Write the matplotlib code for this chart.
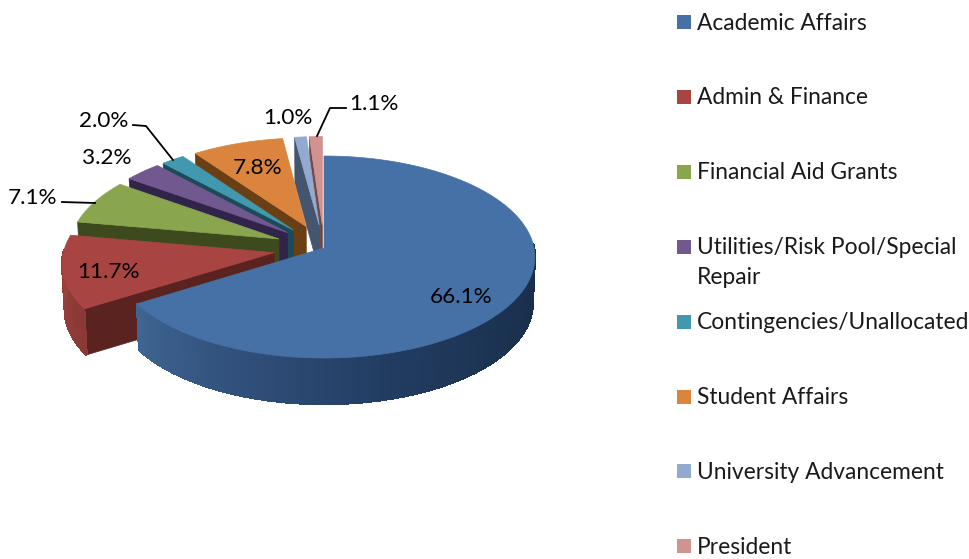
import numpy as np
import matplotlib
matplotlib.use("Agg")
import matplotlib.pyplot as plt
from matplotlib.colors import LinearSegmentedColormap
from matplotlib.patches import Polygon, Rectangle

plt.rcParams['font.family'] = ['Lato', 'DejaVu Sans']

# clockwise from 12 o'clock
departments = ["Academic Affairs", "Admin & Finance", "Financial Aid Grants",
               "Utilities/Risk Pool/Special\nRepair", "Contingencies/Unallocated",
               "Student Affairs", "University Advancement", "President"]
shares = [66.1, 11.7, 7.1, 3.2, 2.0, 7.8, 1.0, 1.1]
share_labels = ["66.1%", "11.7%", "7.1%", "3.2%", "2.0%", "7.8%", "1.0%", "1.1%"]

top_colors = ["#4671A6", "#A84442", "#89A54E", "#71588F", "#4198AF", "#DB843D", "#93A9CF", "#D19392"]
edge_colors = ["#2f4f79", "#5a2320", "#3c4a1e", "#31244a", "#1d4a58", "#6b3f14", "#44566f", "#6e4a48"]
arc_colors = [["#182c48", "#1b3251", "#223c60", "#304f7a", "#3f6592"], ["#8a3936", "#9a403d"], ["#3c4a1e"],
              ["#31244a"], ["#1d4a58"], ["#6b3f14"], ["#44566f"], ["#6e4a48"]]
explode = [0, 0.24, 0.235, 0.235, 0.235, 0.235, 0.235, 0.235]

# pie geometry in pixels
CX, CY = 324, 248
RX, RY = 210, 100.2
PERSP = 0.0892
DEPTH = 46

label_pos = [(461, 297), (108, 272), (33, 198), (107, 158), (104, 121), (258, 168), (288, 118), (374, 104)]
leaders = [[(62, 202), (95, 203)],
           [(133, 125), (146, 126), (173, 160)],
           [(346, 108), (330, 108), (317, 136)]]


def project(x, y, drop=0.0):
    s = 1 / (1 + PERSP * y)
    shrink = 1 - 0.01 * drop / DEPTH
    return np.column_stack([CX + RX * x * s * shrink, CY - RY * y * s + drop])


fig = plt.figure(figsize=(9.7, 5.59), dpi=100)
ax = fig.add_axes([0, 0, 1, 1])
ax.set_xlim(0, 970)
ax.set_ylim(559, 0)
ax.axis("off")

ends = np.cumsum(shares) / np.sum(shares) * 2 * np.pi
starts = np.r_[0, ends[:-1]]

z = 2
# back to front: last slice first, blue one on top of everything
for i in range(len(shares) - 1, -1, -1):
    a0, a1 = starts[i], ends[i]
    mid = (a0 + a1) / 2
    ox, oy = explode[i] * np.sin(mid), explode[i] * np.cos(mid)
    th = np.linspace(a0, a1, max(int(np.degrees(a1 - a0)), 6))
    px, py = ox + np.sin(th), oy + np.cos(th)

    # cut face under the start edge
    if explode[i] > 0:
        ex = np.array([ox, ox + np.sin(a0)])
        ey = np.array([oy, oy + np.cos(a0)])
        face = np.vstack([project(ex, ey), project(ex, ey, DEPTH)[::-1]])
        ax.add_patch(Polygon(face, closed=True, fc=edge_colors[i], ec=edge_colors[i], lw=0.5, zorder=z))
        z += 1

    # outer wall, only where it faces the viewer
    cols = arc_colors[i] if len(arc_colors[i]) > 1 else arc_colors[i] * 2
    cmap = LinearSegmentedColormap.from_list("wall", cols)
    keep = np.cos(th) < 0.05
    if keep.sum() > 1:
        tk = th[keep]
        xk, yk = px[keep], py[keep]
        top = project(xk, yk)
        bot = project(xk, yk, DEPTH)
        for j in range(len(tk) - 1):
            q = np.vstack([top[j:j + 2], bot[j:j + 2][::-1]])
            c = cmap((tk[j] - tk[0]) / (tk[-1] - tk[0]))
            ax.add_patch(Polygon(q, closed=True, fc=c, ec=c, lw=1.0, antialiased=False, zorder=z))
        z += 1

    # top face
    outline = project(np.r_[ox, px], np.r_[oy, py])
    ax.add_patch(Polygon(outline, closed=True, fc=top_colors[i], ec=top_colors[i], lw=0.5, zorder=z))
    z += 1

for xy, txt in zip(label_pos, share_labels):
    ax.text(xy[0], xy[1], txt, fontsize=16.2, color="black", ha="center", va="center", zorder=100)

for pts in leaders:
    pts = np.array(pts)
    ax.plot(pts[:, 0], pts[:, 1], color="black", lw=1.3, zorder=100)

# legend, one row every 75 px, wrapped entry stays top aligned
for i, name in enumerate(departments):
    y = 22 + 74.9 * i
    ax.add_patch(Rectangle((677, y - 7), 14, 14, fc=top_colors[i], ec="none", zorder=100))
    ax.text(697, y - 9.5, name, fontsize=16.4, color="#1a1a1a", ha="left", va="top",
            linespacing=1.5, zorder=100)

fig.savefig("out.png", dpi=100)
